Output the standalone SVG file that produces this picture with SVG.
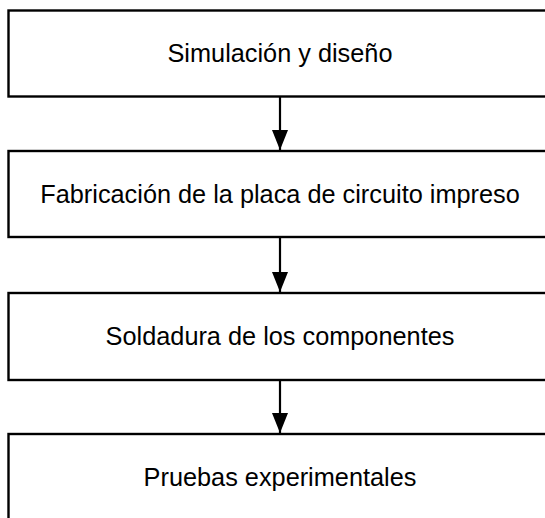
<svg xmlns="http://www.w3.org/2000/svg" width="545" height="518" viewBox="0 0 545 518">
<style>
.box{fill:#fff;stroke:#000;stroke-width:2.4}
.lbl{font-family:"Liberation Sans",Arial,sans-serif;font-size:25.3px;fill:#000;text-anchor:middle}
.con{stroke:#000;stroke-width:2.2;fill:none}
</style>
<defs>
<marker id="ah" markerUnits="userSpaceOnUse" markerWidth="20" markerHeight="16" refX="20" refY="8" orient="auto" viewBox="0 0 20 16">
<path d="M0,0 L20,8 L0,16 Z" fill="#000"/>
</marker>
</defs>
<rect width="545" height="518" fill="#fff"/>
<g id="n1"><rect class="box" x="8.5" y="10.5" width="544" height="86"/><text class="lbl" x="280" y="62">Simulación y diseño</text></g>
<g id="n2"><rect class="box" x="8.5" y="151" width="544" height="86"/><text class="lbl" x="280" y="203">Fabricación de la placa de circuito impreso</text></g>
<g id="n3"><rect class="box" x="8.5" y="293" width="544" height="87"/><text class="lbl" x="280" y="345">Soldadura de los componentes</text></g>
<g id="n4"><rect class="box" x="8.5" y="434" width="544" height="90"/><text class="lbl" x="280" y="486">Pruebas experimentales</text></g>
<g id="connectors">
<line class="con" x1="280" y1="97" x2="280" y2="150" marker-end="url(#ah)"/>
<line class="con" x1="280" y1="237" x2="280" y2="292" marker-end="url(#ah)"/>
<line class="con" x1="280" y1="380" x2="280" y2="433" marker-end="url(#ah)"/>
</g>
</svg>
